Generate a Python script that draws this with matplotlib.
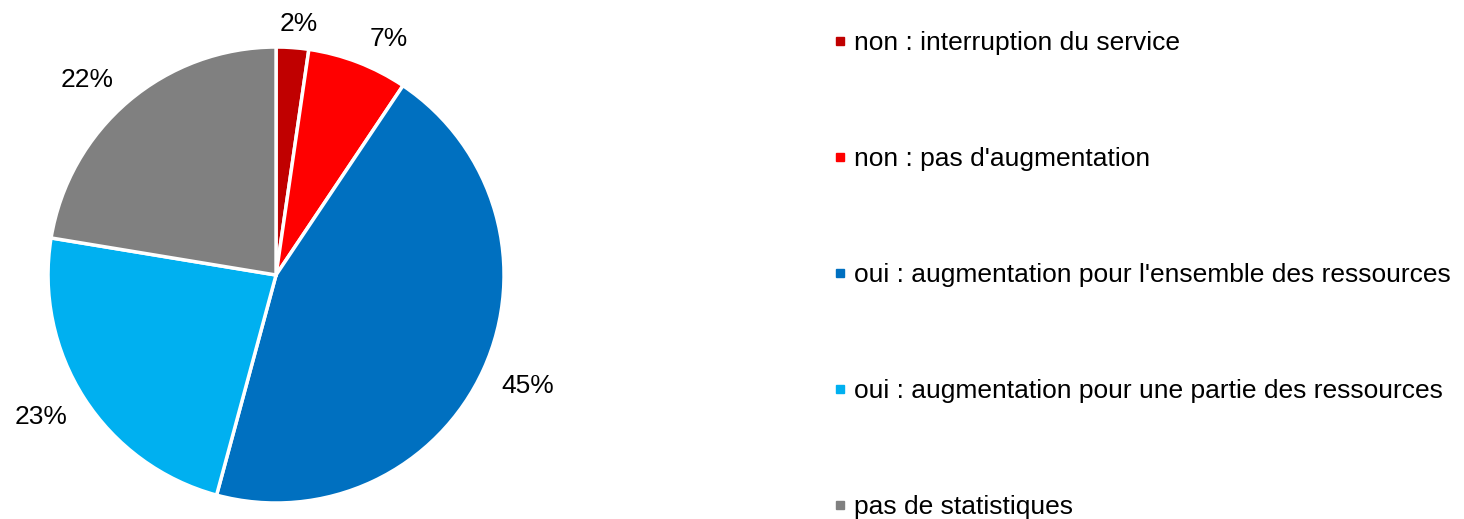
import numpy as np
import matplotlib.pyplot as plt
from matplotlib.lines import Line2D

plt.rcParams['font.family'] = ['Liberation Sans', 'DejaVu Sans']

# données
categories = ["non : interruption du service",
              "non : pas d'augmentation",
              "oui : augmentation pour l'ensemble des ressources",
              "oui : augmentation pour une partie des ressources",
              "pas de statistiques"]
valeurs = [2.3, 7.1, 44.8, 23.4, 22.4]
couleurs = ['#C00000', '#FF0000', '#0070C0', '#00B0F0', '#808080']

fig = plt.figure(figsize=(14.64, 5.19), dpi=100)
ax = fig.add_axes([0.0328, 0.0308, 0.3115, 0.8786])

wedges, texts, autotexts = ax.pie(
    valeurs, colors=couleurs, startangle=90, counterclock=False,
    autopct='%.0f%%', pctdistance=1.15, radius=1,
    wedgeprops=dict(edgecolor='white', linewidth=2.5),
    textprops=dict(fontsize=19, color='black'))
ax.set_xlim(-1, 1)
ax.set_ylim(-1, 1)
ax.set_aspect('equal')

# étiquettes en "bout extérieur" comme dans Excel
fig.canvas.draw()
r = fig.canvas.get_renderer()
inv = ax.transData.inverted()
for w, t in zip(wedges, autotexts):
    th = np.deg2rad((w.theta1 + w.theta2) / 2)
    c, s = np.cos(th), np.sin(th)
    bb = t.get_window_extent(r)
    ex, ey = ax.transData.transform((c, s))
    px = ex + 12 * c + np.clip(3 * c, -1, 1) * (bb.width / 2 + 7)
    py = ey + 12 * s + np.clip(3 * s, -1, 1) * (bb.height / 2)
    t.set_position(inv.transform((px, py)))

handles = [Line2D([], [], marker='s', linestyle='', markersize=6,
                  markerfacecolor=c, markeredgecolor=c) for c in couleurs]
fig.legend(handles, categories, loc='upper left', bbox_to_anchor=(0.5625, 0.961),
           frameon=False, fontsize=19, labelspacing=3.49, handlelength=0.45,
           handletextpad=0.3, borderaxespad=0)

plt.savefig('out.png', dpi=100)
